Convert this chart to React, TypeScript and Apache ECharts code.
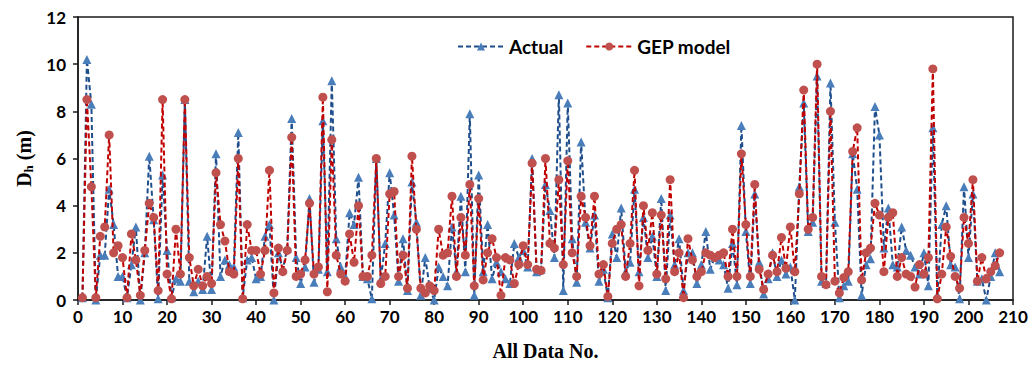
import React, { useEffect, useRef } from "react";
import * as echarts from "echarts";

const actual: number[] = [
  0.1, 10.2, 8.3, 0.0, 1.9, 1.9, 4.7, 3.2, 1.0, 1.0,
  0.1, 1.5, 3.1, 0.0, 2.0, 6.1, 3.4, 0.05, 5.3, 2.1,
  0.1, 0.9, 0.8, 8.5, 0.8, 0.35, 0.8, 0.45, 2.7, 0.45,
  6.2, 1.0, 1.7, 1.5, 1.4, 7.1, 0.1, 1.7, 1.8, 0.9,
  1.0, 2.7, 3.2, 0.0, 2.0, 1.3, 2.2, 7.7, 1.8, 0.7,
  1.4, 4.3, 0.75, 1.3, 7.6, 1.2, 9.3, 2.6, 1.4, 1.0,
  3.7, 3.2, 5.2, 1.0, 0.9, 0.05, 6.0, 0.85, 2.4, 5.4,
  3.6, 0.8, 2.6, 0.4, 5.0, 3.3, 0.2, 1.8, 0.5, 0.0,
  1.4, 1.0, 0.6, 3.1, 1.2, 4.4, 1.2, 7.9, 0.2, 5.3,
  1.2, 3.2, 0.9, 1.6, 1.2, 0.9, 0.7, 2.4, 1.8, 2.1,
  1.4, 6.0, 1.2, 1.3, 4.9, 3.8, 1.8, 8.7, 0.4, 8.35,
  2.6, 0.75, 6.7, 3.3, 2.2, 3.6, 0.8, 1.3, 0.1, 2.8,
  1.8, 3.9, 1.2, 1.6, 4.7, 1.2, 3.5, 1.8, 2.7, 1.0,
  4.3, 0.4, 3.6, 1.5, 2.6, 0.4, 2.0, 2.0, 0.7, 1.5,
  2.9, 1.3, 1.8, 1.7, 1.5, 0.5, 2.4, 0.65, 7.4, 2.9,
  0.7, 4.5, 1.6, 0.25, 0.9, 2.0, 1.0, 1.7, 1.1, 1.4,
  0.0, 4.8, 8.35, 2.9, 3.3, 9.5, 0.8, 0.7, 9.2, 3.3,
  0.1, 0.6, 0.8, 6.2, 4.7, 0.2, 1.5, 1.75, 8.2, 7.0,
  2.2, 3.9, 1.5, 1.4, 3.1, 2.1, 1.9, 1.4, 1.1, 2.0,
  0.6, 7.3, 0.2, 3.2, 4.0, 1.5, 1.4, 0.05, 4.8, 1.8,
  4.5, 0.8, 0.9, 0.0, 1.0, 2.0, 1.2,
];

const gepModel: number[] = [
  0.1, 8.5, 4.8, 0.1, 2.7, 3.1, 7.0, 2.0, 2.3, 1.8,
  0.1, 2.8, 1.7, 0.2, 2.1, 4.1, 3.5, 0.4, 8.5, 1.1,
  0.05, 3.0, 1.1, 8.5, 1.8, 0.6, 1.3, 0.6, 1.0, 0.7,
  5.4, 3.2, 2.5, 1.2, 1.1, 6.0, 0.05, 3.2, 2.1, 2.1,
  1.1, 2.1, 5.5, 0.3, 2.2, 1.2, 2.1, 6.9, 1.0, 1.1,
  1.7, 4.1, 1.1, 1.4, 8.6, 0.35, 6.8, 1.9, 1.1, 0.8,
  2.8, 1.6, 4.0, 1.0, 1.0, 1.9, 6.0, 0.7, 1.0, 4.5,
  4.6, 1.0, 1.9, 0.5, 6.1, 3.0, 0.5, 0.3, 0.6, 0.4,
  3.0, 1.9, 2.0, 4.4, 1.0, 3.5, 1.9, 4.9, 0.6, 4.3,
  0.85, 2.0, 2.6, 1.8, 0.2, 1.8, 1.7, 0.7, 1.5, 2.3,
  1.5, 5.8, 1.3, 1.25, 6.0, 2.4, 2.2, 5.1, 1.5, 5.9,
  2.0, 1.0, 4.4, 3.5, 2.3, 4.4, 1.1, 1.5, 0.15, 2.4,
  3.0, 3.2, 1.0, 2.4, 5.5, 0.6, 4.0, 2.1, 3.7, 1.1,
  3.6, 0.9, 5.1, 1.2, 2.0, 0.1, 2.6, 1.7, 1.0, 1.2,
  2.0, 1.9, 1.8, 1.9, 2.0, 1.0, 3.0, 1.0, 6.2, 3.2,
  1.0, 4.9, 1.3, 0.45, 1.1, 1.9, 1.2, 2.65, 1.35, 3.1,
  1.2, 4.5, 8.9, 3.0, 3.5, 10.0, 1.0, 0.65, 8.0, 0.8,
  0.3, 0.95, 1.2, 6.3, 7.3, 0.85, 2.0, 2.2, 4.1, 3.6,
  1.2, 3.5, 3.7, 1.0, 1.8, 1.1, 1.0, 0.55, 1.5, 1.1,
  1.8, 9.8, 0.05, 1.1, 3.1, 1.85, 1.0, 0.5, 3.5, 2.4,
  5.1, 0.8, 1.8, 0.9, 1.2, 1.45, 2.0,
];

const seriesNames = ["Actual", "GEP model"];
const xTitle = "All Data No.";

export default function App() {
  const ref = useRef<HTMLDivElement>(null);

  useEffect(() => {
    if (!ref.current) return;
    const chart = echarts.init(ref.current, null, { renderer: "svg" });
    const toPairs = (arr: number[]) => arr.map((v, i) => [i + 1, v]);
    const labelFont = { fontFamily: "Lato", fontWeight: "bold" as const, fontSize: 17, color: "#000" };
    chart.setOption({
      animation: false,
      backgroundColor: "#fff",
      grid: {
        left: 78,
        right: 21,
        top: 17,
        bottom: 65,
        show: true,
        borderColor: "#1a1a1a",
        borderWidth: 1.5,
        containLabel: false,
      },
      legend: {
        top: 32,
        left: 452,
        itemWidth: 46,
        itemHeight: 10,
        itemGap: 22,
        textStyle: { fontFamily: "Lato", fontWeight: "bold", fontSize: 19, color: "#000" },
        data: seriesNames,
      },
      xAxis: {
        type: "value",
        min: 0,
        max: 210,
        interval: 10,
        name: xTitle,
        nameLocation: "middle",
        nameGap: 41,
        nameTextStyle: { fontFamily: "Liberation Serif", fontWeight: "bold", fontSize: 20, color: "#000" },
        axisLine: { show: true, onZero: false, lineStyle: { color: "#1a1a1a", width: 1.5 } },
        axisTick: { show: true, inside: false, length: 5, lineStyle: { color: "#1a1a1a", width: 1.5 } },
        axisLabel: { ...labelFont, margin: 8 },
        splitLine: { show: false },
      },
      yAxis: {
        type: "value",
        min: 0,
        max: 12,
        interval: 2,
        name: "{a|D}{b|h}{a| (m)}",
        nameLocation: "middle",
        nameGap: 43,
        nameRotate: 90,
        nameTextStyle: {
          rich: {
            a: { fontFamily: "Liberation Serif", fontWeight: "bold", fontSize: 20, color: "#000" },
            b: { fontFamily: "Liberation Serif", fontWeight: "bold", fontSize: 13, color: "#000", padding: [9, 0, 0, 0] },
          },
        },
        axisLine: { show: true, lineStyle: { color: "#1a1a1a", width: 1.5 } },
        axisTick: { show: true, inside: false, length: 5, lineStyle: { color: "#1a1a1a", width: 1.5 } },
        axisLabel: { ...labelFont, margin: 12 },
        splitLine: { show: false },
      },
      series: [
        {
          name: seriesNames[0],
          type: "line",
          data: toPairs(actual),
          symbol: "triangle",
          symbolSize: 9,
          itemStyle: { color: "#4A7EBB" },
          lineStyle: { color: "#1F4E8C", width: 2, type: [5, 3] },
          z: 2,
        },
        {
          name: seriesNames[1],
          type: "line",
          data: toPairs(gepModel),
          symbol: "circle",
          symbolSize: 9,
          itemStyle: { color: "#C0504D" },
          lineStyle: { color: "#C00000", width: 2, type: [5, 3] },
          z: 3,
        },
      ],
    });
    return () => chart.dispose();
  }, []);

  return (
    <div
      ref={ref}
      style={{ position: "fixed", left: 0, top: 0, width: 1034, height: 366 }}
    />
  );
}
